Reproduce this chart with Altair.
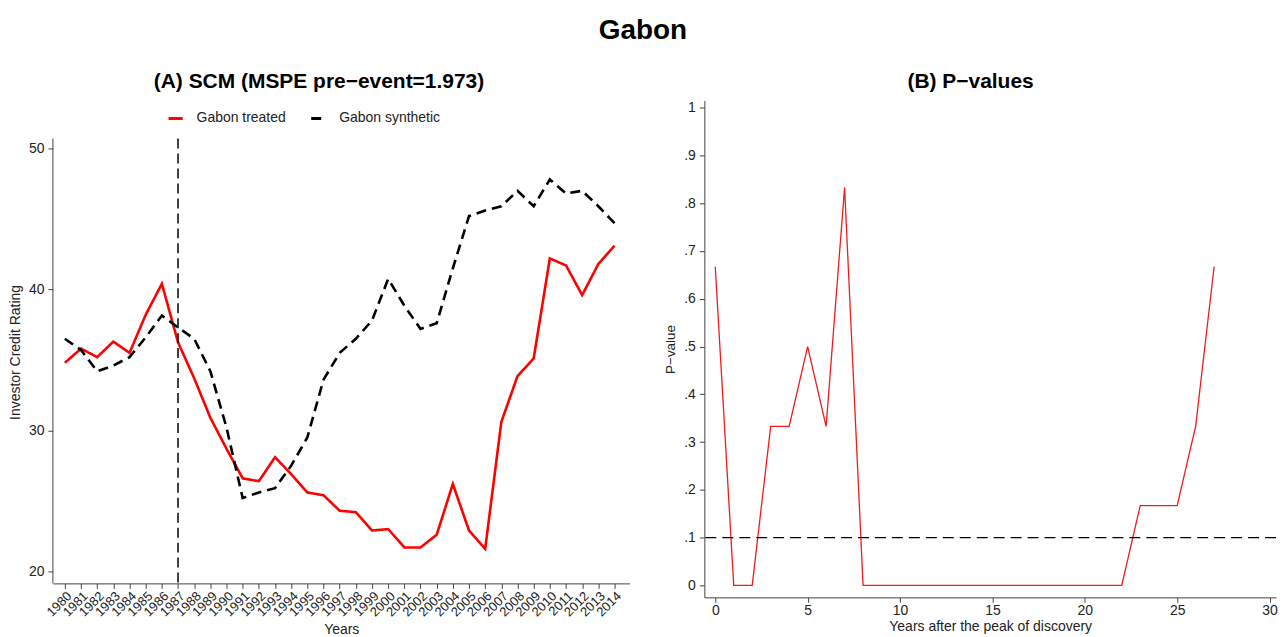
import altair as alt
import pandas as pd

FONT = "Liberation Sans"

# ---- Panel A data ----
years = list(range(1980, 2015))
treated = [34.8, 35.8, 35.2, 36.3, 35.5, 38.2, 40.4, 36.25, 33.7, 30.9,
           28.7, 26.6, 26.4, 28.1, 26.9, 25.6, 25.4, 24.3, 24.2, 22.9,
           23.0, 21.7, 21.7, 22.6, 26.2, 22.9, 21.6, 30.6, 33.85, 35.1,
           42.2, 41.7, 39.6, 41.8, 43.1]
synthetic = [36.5, 35.7, 34.2, 34.6, 35.2, 36.6, 38.15, 37.3, 36.5, 34.2,
             30.2, 25.2, 25.6, 25.9, 27.5, 29.5, 33.6, 35.5, 36.5, 37.8,
             40.75, 38.85, 37.2, 37.6, 41.5, 45.2, 45.6, 45.9, 47.0, 45.9,
             47.8, 46.8, 47.0, 45.9, 44.7]
series_names = ["Gabon treated", "Gabon synthetic"]
event_year = [1987]
y_ticks_a = [20, 30, 40, 50]
y_axis_top = [50.7]
y_axis_bottom = [19.15]

# ---- Panel B data ----
t_after = list(range(28))
pvals = [0.667, 0, 0, 0.333, 0.333, 0.5, 0.333, 0.833, 0, 0,
         0, 0, 0, 0, 0, 0, 0, 0, 0, 0,
         0, 0, 0, 0.167, 0.167, 0.167, 0.333, 0.667]
threshold = [0.1]
x_ticks_b = [0, 5, 10, 15, 20, 25, 30]
y_ticks_b = [0, 0.1, 0.2, 0.3, 0.4, 0.5, 0.6, 0.7, 0.8, 0.9, 1]

df = pd.DataFrame({
    "Year": years + years,
    "Rating": treated + synthetic,
    "Series": [series_names[0]] * len(years) + [series_names[1]] * len(years),
})
ev = pd.DataFrame({"Year": event_year, "Rating": y_axis_top, "bot": y_axis_bottom})

xs_a = alt.Scale(domain=[1979.26, 2014.93], nice=False, zero=False)
ys_a = alt.Scale(domain=[19.15, 53.4], nice=False, zero=False)

x_axis_a = alt.Axis(values=years, format="d", labelAngle=-45,
                    labelOverlap=False, title="Years", labelFontSize=13,
                    labelPadding=1, titlePadding=4, titleFontSize=14)
y_axis_a = alt.Axis(values=y_ticks_a, domain=False, title="Investor Credit Rating",
                    titlePadding=6, titleFontSize=14, titleY=252)

leg = alt.Legend(
    title=None, orient="none", direction="horizontal", legendX=114, legendY=9,
    symbolType="stroke", symbolStrokeWidth=3, symbolSize=200,
    labelFont=FONT, labelFontSize=14, labelColor="#222", columnPadding=18,
    labelOffset=12, symbolLimit=0, labelLimit=300,
)

x_enc = alt.X("Year:Q", scale=xs_a, axis=x_axis_a)
y_enc = alt.Y("Rating:Q", scale=ys_a, axis=y_axis_a)

lines = alt.Chart(df).mark_line(strokeWidth=2.6).encode(
    x=x_enc,
    y=y_enc,
    color=alt.Color("Series:N",
                    scale=alt.Scale(domain=series_names, range=["#ff0000", "#000000"]),
                    legend=leg),
    strokeDash=alt.StrokeDash("Series:N",
                              scale=alt.Scale(domain=series_names, range=[[1, 0], [10, 6]]),
                              legend=leg),
)

vrule = alt.Chart(ev).mark_rule(color="#000000", strokeWidth=1.5, strokeDash=[10, 5]).encode(
    x=x_enc, y=y_enc, y2="bot:Q")
yaxis_line = alt.Chart(ev).mark_rule(color="#444", strokeWidth=1).encode(
    x=alt.value(0), y=y_enc, y2="bot:Q")

left = alt.layer(lines, vrule, yaxis_line).properties(
    width=578, height=484,
    title=alt.TitleParams("(A) SCM (MSPE pre\u2212event=1.973)", fontSize=21,
                          font=FONT, fontWeight="bold", anchor="middle",
                          frame="bounds", offset=9),
)

pdf = pd.DataFrame({"t": t_after, "p": pvals})
thr = pd.DataFrame({"p": threshold})

x_enc_b = alt.X("t:Q", scale=alt.Scale(domain=[-0.59, 30.35], nice=False, zero=False),
                axis=alt.Axis(values=x_ticks_b, title="Years after the peak of discovery",
                              labelPadding=1, titlePadding=2, titleFontSize=14))
y_enc_b = alt.Y("p:Q", scale=alt.Scale(domain=[-0.025, 1.015], nice=False, zero=False),
                axis=alt.Axis(values=y_ticks_b, title="P\u2212value", titlePadding=6,
                              labelExpr="datum.value == 0 ? '0' : datum.value == 1 ? '1' : replace(format(datum.value, '.1f'), '0.', '.')"))

pline = alt.Chart(pdf).mark_line(color="#ee1c1c", strokeWidth=1.3).encode(
    x=x_enc_b, y=y_enc_b)
hrule = alt.Chart(thr).mark_rule(color="black", strokeWidth=1.3, strokeDash=[11, 6]).encode(
    y=y_enc_b)

right = alt.layer(pline, hrule).properties(
    width=573, height=498,
    title=alt.TitleParams("(B) P\u2212values", fontSize=21, font=FONT,
                          fontWeight="bold", anchor="middle", frame="bounds", offset=9),
)

chart = alt.hconcat(left, right, spacing=34).resolve_scale(
    color="independent", strokeDash="independent"
).properties(
    title=alt.TitleParams("Gabon", fontSize=28, font=FONT, fontWeight="bold",
                          anchor="middle", offset=26),
    padding={"left": 0, "top": 8, "right": 0, "bottom": 0},
).configure_view(stroke=None).configure_axis(
    grid=False, labelFont=FONT, titleFont=FONT, labelFontSize=14,
    titleFontSize=13.5, titleFontWeight="normal", labelColor="#222",
    titleColor="#222", tickColor="#444", domainColor="#444", tickSize=5,
    labelPadding=4,
).configure_axisX(labelOverlap=False)

chart.save("out.html", embed_options={"renderer": "svg", "actions": False})
